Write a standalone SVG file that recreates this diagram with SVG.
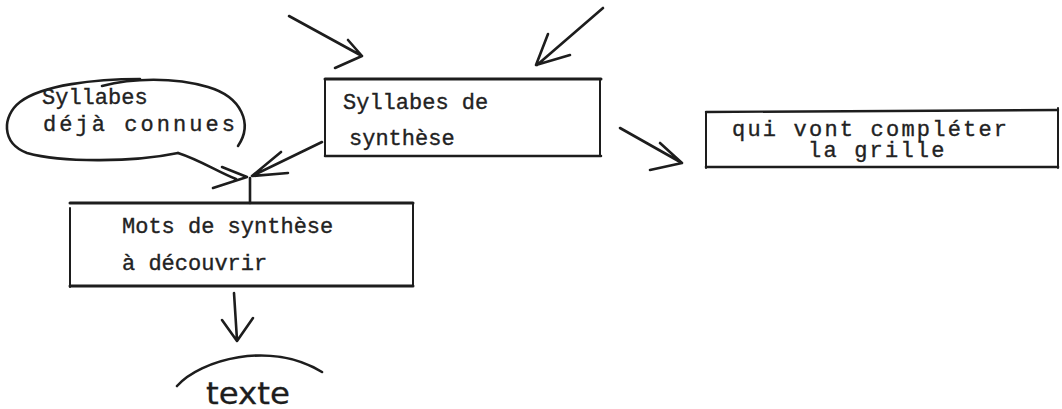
<svg xmlns="http://www.w3.org/2000/svg" width="1062" height="409" viewBox="0 0 1062 409">
  <style>
    .ink{fill:none;stroke:#1d1d1d;stroke-linecap:round;stroke-linejoin:round}
    .pen{stroke-width:2.6}
    .rule{stroke-width:3}
    .side{stroke-width:2}
    .tw{font-family:"Liberation Mono","DejaVu Sans Mono",monospace;font-size:22px;fill:#222;stroke:#222;stroke-width:0.35}
    .hand{font-family:"DejaVu Sans","Liberation Sans",sans-serif;font-size:30px;fill:#1d1d1d;stroke:#1d1d1d;stroke-width:0.3}
  </style>
  <rect width="1062" height="409" fill="#ffffff"/>

  <!-- hand-drawn loop: syllables already known -->
  <g id="known">
    <path class="ink pen" d="M140,79 C95,79 42,85 20,102 C2,116 1,143 27,153 C63,163 135,162 178,153"/>
    <path class="ink pen" d="M102,86 C132,78 174,77 208,87 C242,97 253,124 238,146"/>
    <text class="tw" x="42" y="104">Syllabes</text>
    <text class="tw" x="43" y="131" textLength="192" lengthAdjust="spacing">déjà connues</text>
  </g>

  <!-- typed box: synthesis syllables -->
  <g id="synthesis">
    <path class="ink rule" d="M325,79 L601,79"/>
    <path class="ink side" d="M325,80 L325,156 M600,79 L600,155"/>
    <path class="ink" stroke-width="2.5" d="M325,156 L601,156"/>
    <text class="tw" x="343" y="109">Syllabes de</text>
    <text class="tw" x="349" y="145">synthèse</text>
  </g>

  <!-- typed box: grid completion -->
  <g id="grid">
    <path class="ink" stroke-width="2.4" d="M706,112 L1058,110"/>
    <path class="ink side" d="M706,112 L706,168 M1058,108 L1058,168"/>
    <path class="ink" stroke-width="2.6" d="M706,167 L1058,167"/>
    <text class="tw" x="732" y="136" letter-spacing="2.2">qui vont compléter</text>
    <text class="tw" x="808" y="157" letter-spacing="2.2">la grille</text>
  </g>

  <!-- typed box: words to discover -->
  <g id="words">
    <path class="ink rule" d="M70,203 L413,203"/>
    <path class="ink side" d="M70,208 L70,287 M413,203 L413,286"/>
    <path class="ink rule" d="M70,286 L413,286"/>
    <text class="tw" x="122" y="233">Mots de synthèse</text>
    <text class="tw" x="122" y="270">à découvrir</text>
  </g>

  <!-- handwritten outcome -->
  <g id="texte">
    <path class="ink pen" d="M177,386 C200,360 270,340 322,372"/>
    <text class="hand" x="206" y="404" textLength="84" lengthAdjust="spacingAndGlyphs">texte</text>
  </g>

  <!-- hand-drawn arrows -->
  <g id="connectors" class="ink pen">
    <path d="M289,16 L362,56 M348,40 L362,56 L335,68"/>
    <path d="M603,8 L537,65 M548,34 L536,65 L570,55"/>
    <path d="M620,128 L682,163 M660,143 L682,163 L650,170"/>
    <path d="M178,153 C200,160 218,172 236,179 M222,167 L247,177 L213,188"/>
    <path d="M322,142 L252,176 M281,152 L252,176 L288,173"/>
    <path d="M250,178 L250,203"/>
    <path d="M234,293 L237,340 M222,320 L237,341 L253,318"/>
  </g>
</svg>
